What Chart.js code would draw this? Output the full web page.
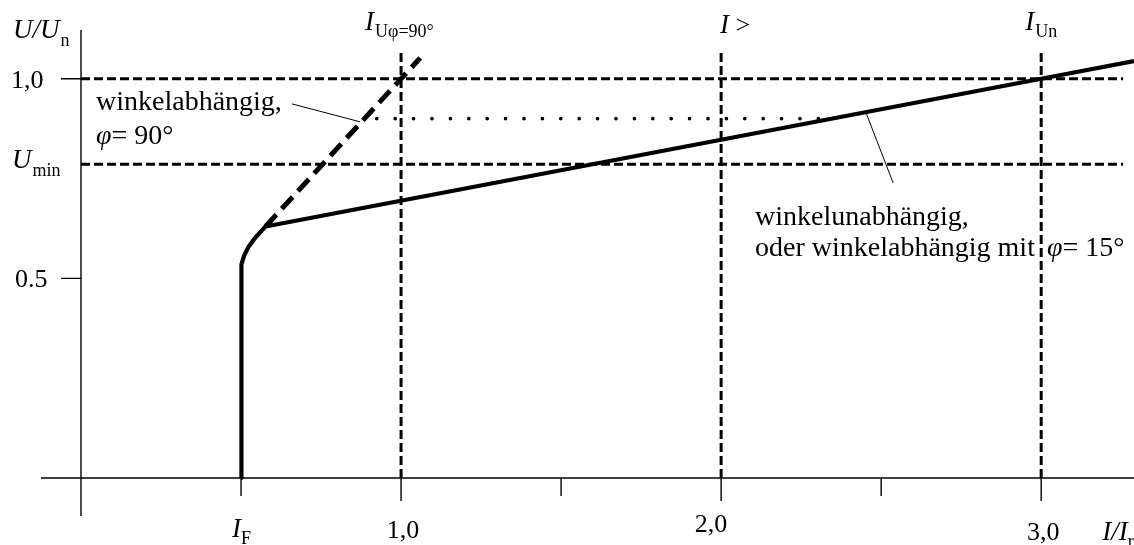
<!DOCTYPE html>
<html>
<head>
<meta charset="utf-8">
<script src="https://cdn.jsdelivr.net/npm/chart.js@4/dist/chart.umd.min.js"></script>
<style>
  html, body { margin: 0; padding: 0; background: #fff; }
  #wrap { width: 1134px; height: 545px; }
</style>
</head>
<body>
<div id="wrap"><canvas id="c" width="1134" height="545"></canvas></div>
<script>
// Axis ranges (I/I_r horizontally, U/U_n vertically)
const xRange = [-0.125, 3.29];
const yRange = [-0.0952, 1.122];

// Tick positions and labels
const xMajorTicks = [0.5, 1.0, 2.0, 3.0];
const xMinorTicks = [1.5, 2.5];
const xTickValues = [1.0, 2.0, 3.0];
const xTickLabels = ['1,0', '2,0', '3,0'];
const yTickValues = [1.0, 0.5];
const yTickLabels = ['1,0', '0.5'];

// Characteristic levels
const iF = 0.5;
const uMin = 0.786;
const uPhi90 = 0.9;
const refCurrents = [1.0, 2.0, 3.0];
const refTop = 1.072;
const refRight = 3.256;

// Angle-independent characteristic (also phi = 15 deg)
const curveX = [0.5, 0.5, 0.5025, 0.5097, 0.5219, 0.5438, 0.5766, 2.0, 3.0, 3.29];
const curveY = [0.0, 0.512, 0.535, 0.557, 0.577, 0.601, 0.630, 0.847, 1.0, 1.044];

// Angle-dependent characteristic, phi = 90 deg
const phi90X = [0.5766, 1.0, 1.06];
const phi90Y = [0.630, 1.0, 1.052];

// Dotted level for phi = 90 deg
const dotX = [0.924, 2.35];

// Leader lines from the notes to the curves
const leader1X = [0.659, 0.872];
const leader1Y = [0.937, 0.892];
const leader2X = [2.453, 2.5375];
const leader2Y = [0.914, 0.739];

const pts = (xs, ys) => xs.map((x, i) => ({ x, y: ys[i] }));

const lineDs = (data, width, dash, extra) => Object.assign({
  data, showLine: true, fill: false, borderColor: '#000', borderWidth: width,
  borderDash: dash, pointRadius: 0, pointHoverRadius: 0, tension: 0
}, extra || {});

const gridDash = [9, 4];
const datasets = [
  lineDs(pts(curveX, curveY), 4.2, [], { borderJoinStyle: 'round' }),
  lineDs(pts(phi90X, phi90Y), 5, [16, 8]),
  lineDs(pts([0, refRight], [1.0, 1.0]), 3, gridDash),
  lineDs(pts([0, refRight], [uMin, uMin]), 3, gridDash),
  ...refCurrents.map(v => lineDs(pts([v, v], [0, refTop]), 3, gridDash)),
  lineDs(pts(dotX, [uPhi90, uPhi90]), 3.6, [0.1, 18.3], { borderCapStyle: 'round' }),
  lineDs(pts(leader1X, leader1Y), 1, []),
  lineDs(pts(leader2X, leader2Y), 1, [])
];

const SERIF = '"Liberation Serif", "Times New Roman", serif';

// Draws a run of text pieces (main text, subscripts) from a left baseline point
function rich(ctx, x, y, parts) {
  let cx = x;
  for (const p of parts) {
    ctx.font = p.f;
    ctx.fillText(p.t, cx, y + (p.dy || 0));
    cx += ctx.measureText(p.t).width + (p.gap || 0);
  }
}

const axesPlugin = {
  id: 'axesAndText',
  beforeDatasetsDraw(chart) {
    const { ctx, chartArea: a, scales: { x, y } } = chart;
    const x0 = x.getPixelForValue(0), y0 = y.getPixelForValue(0);
    ctx.save();
    ctx.strokeStyle = '#000';
    ctx.lineWidth = 1.4;
    ctx.beginPath();
    ctx.moveTo(a.left, y0); ctx.lineTo(a.right, y0);
    ctx.moveTo(x0, a.top); ctx.lineTo(x0, a.bottom);
    for (const v of xMajorTicks) {
      const px = x.getPixelForValue(v);
      ctx.moveTo(px, y0); ctx.lineTo(px, y0 + (v === iF ? 18 : 23));
    }
    for (const v of xMinorTicks) {
      const px = x.getPixelForValue(v);
      ctx.moveTo(px, y0); ctx.lineTo(px, y0 + 18);
    }
    for (const v of yTickValues) {
      const py = y.getPixelForValue(v);
      ctx.moveTo(x0 - 20, py); ctx.lineTo(x0, py);
    }
    ctx.stroke();
    ctx.restore();
  },
  afterDraw(chart) {
    const { ctx, scales: { x, y } } = chart;
    const y0 = y.getPixelForValue(0);
    const big = '26px ' + SERIF, bigI = 'italic 27px ' + SERIF, sub = '18px ' + SERIF;
    ctx.save();
    ctx.fillStyle = '#000';
    ctx.textBaseline = 'alphabetic';

    // y tick labels
    ctx.textAlign = 'left';
    ctx.font = big;
    ctx.fillText(yTickLabels[0], 11, y.getPixelForValue(yTickValues[0]) + 9);
    ctx.fillText(yTickLabels[1], 15, y.getPixelForValue(yTickValues[1]) + 9);

    // x tick labels
    ctx.textAlign = 'center';
    const xOff = [2, -10, 2];
    const yOff = [60, 54, 62];
    xTickValues.forEach((v, i) => {
      ctx.fillText(xTickLabels[i], x.getPixelForValue(v) + xOff[i], y0 + yOff[i]);
    });
    ctx.textAlign = 'left';

    // axis titles
    rich(ctx, 13, 38, [{ t: 'U/U', f: bigI, gap: 1 }, { t: 'n', f: sub, dy: 8 }]);
    rich(ctx, x.getPixelForValue(3.0) + 61, y0 + 62, [{ t: 'I/I', f: bigI }, { t: 'r', f: sub, dy: 7 }]);

    // level labels
    rich(ctx, 12, y.getPixelForValue(uMin) + 4, [{ t: 'U', f: bigI, gap: 1 }, { t: 'min', f: sub, dy: 8 }]);
    rich(ctx, x.getPixelForValue(iF) - 9, y0 + 59, [{ t: 'I', f: bigI, gap: 0 }, { t: 'F', f: sub, dy: 7 }]);

    // reference current labels
    rich(ctx, x.getPixelForValue(1.0) - 36, 30, [{ t: 'I', f: bigI, gap: 1 }, { t: 'Uφ=90°', f: sub, dy: 7 }]);
    rich(ctx, x.getPixelForValue(2.0) - 1, 33, [{ t: 'I', f: bigI }, { t: ' >', f: big }]);
    rich(ctx, x.getPixelForValue(3.0) - 16, 30, [{ t: 'I', f: bigI, gap: 1 }, { t: 'Un', f: sub, dy: 7 }]);

    // notes
    const note = '28px ' + SERIF, noteI = 'italic 28px ' + SERIF;
    rich(ctx, 96, 110, [{ t: 'winkelabhängig,', f: note }]);
    rich(ctx, 96, 144, [{ t: 'φ', f: noteI }, { t: '= 90°', f: note }]);
    rich(ctx, 755, 225, [{ t: 'winkelunabhängig,', f: note }]);
    rich(ctx, 755, 256, [{ t: 'oder winkelabhängig mit ', f: note, gap: 5 }, { t: 'φ', f: noteI }, { t: '= 15°', f: note }]);
    ctx.restore();
  }
};

new Chart(document.getElementById('c'), {
  type: 'scatter',
  data: { datasets },
  options: {
    responsive: false,
    devicePixelRatio: 1,
    animation: false,
    layout: { padding: { left: 41, top: 30, right: 0, bottom: 29 } },
    plugins: { legend: { display: false }, tooltip: { enabled: false } },
    events: [],
    scales: {
      x: { type: 'linear', min: xRange[0], max: xRange[1], display: false },
      y: { type: 'linear', min: yRange[0], max: yRange[1], display: false }
    }
  },
  plugins: [axesPlugin]
});
</script>
</body>
</html>
